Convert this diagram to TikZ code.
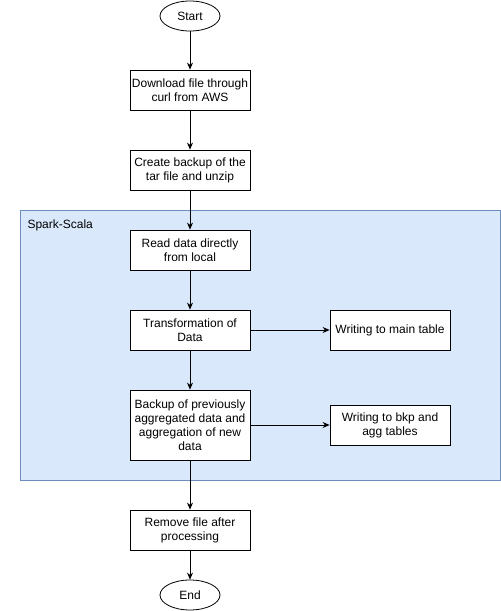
\documentclass[tikz,border=0pt]{standalone}
\usepackage{fontspec}
\setmainfont{Liberation Sans}
\usetikzlibrary{arrows.meta,shapes.geometric}
\definecolor{grpfill}{HTML}{DAE8FC}
\definecolor{grpdraw}{HTML}{6C8EBF}
\begin{document}
\begin{tikzpicture}[x=1pt,y=-1pt,
  every node/.style={font=\fontsize{12}{14}\selectfont},
  box/.style={draw=black,fill=white,line width=0.8pt,minimum width=120pt,minimum height=40pt,align=center,inner sep=0pt},
  term/.style={draw=black,fill=white,ellipse,line width=0.8pt,minimum width=60pt,minimum height=30pt,inner sep=0pt},
  arr/.style={-{Stealth[length=7pt,width=6pt]},line width=0.8pt}]
\useasboundingbox (0,0) rectangle (501,611);
\node[draw=grpdraw,fill=grpfill,line width=0.8pt,minimum width=480pt,minimum height=270pt,inner sep=0pt] (grp) at (260,345) {};
\node[anchor=west] (lbl) at (24,225) {Spark-Scala};
\node[term] (start) at (190,16) {Start};
\node[box] (dl) at (190,90) {Download file through\\curl from AWS};
\node[box] (bk) at (190,170) {Create backup of the\\tar file and unzip};
\node[box] (rd) at (190,250) {Read data directly\\from local};
\node[box] (tr) at (190,330) {Transformation of\\Data};
\node[box] (wm) at (390,330) {Writing to main table};
\node[box,minimum height=70pt] (ag) at (190,425) {Backup of previously\\aggregated data and\\aggregation of new\\data};
\node[box] (wb) at (390,425) {Writing to bkp and\\agg tables};
\node[box] (rm) at (190,530) {Remove file after\\processing};
\node[term] (end) at (190,595) {End};
\draw[arr] (start) -- (dl);
\draw[arr] (dl) -- (bk);
\draw[arr] (bk) -- (rd);
\draw[arr] (rd) -- (tr);
\draw[arr] (tr) -- (wm);
\draw[arr] (tr) -- (ag);
\draw[arr] (ag) -- (wb);
\draw[arr] (ag) -- (rm);
\draw[arr] (rm) -- (end);
\end{tikzpicture}
\end{document}
